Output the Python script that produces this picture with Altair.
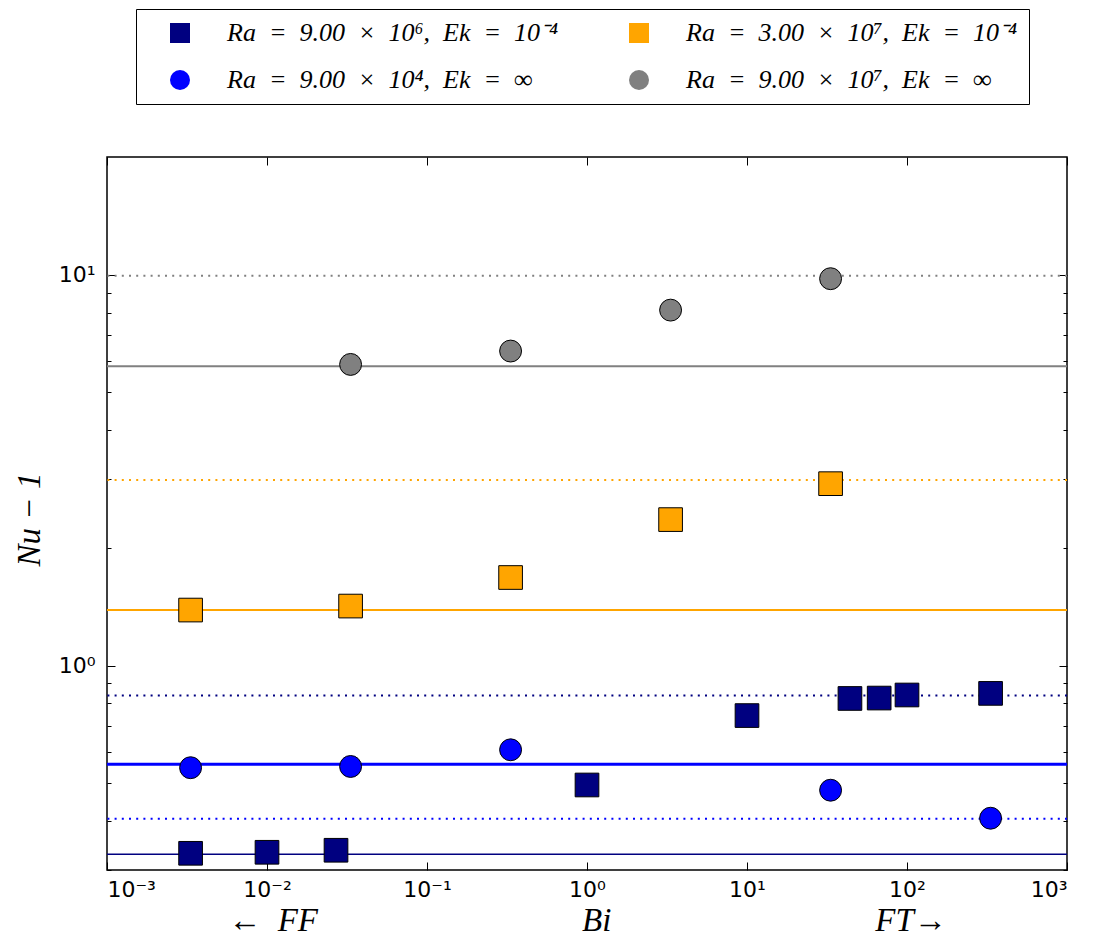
import json
import altair as alt
import pandas as pd

# ---------------- data ----------------
# series in legend order (column-major: left column, then right column)
series_names = [
    "Ra\u2002=\u20029.00\u2002×\u200210⁶,\u2002Ek\u2002=\u200210⁻⁴",
    "Ra\u2002=\u20029.00\u2002×\u200210⁴,\u2002Ek\u2002=\u2002∞",
    "Ra\u2002=\u20023.00\u2002×\u200210⁷,\u2002Ek\u2002=\u200210⁻⁴",
    "Ra\u2002=\u20029.00\u2002×\u200210⁷,\u2002Ek\u2002=\u2002∞",
]
series_colors = ["#000080", "#0000ff", "#ffa500", "#808080"]
series_shapes = ["square", "circle", "square", "circle"]
solid_widths = [1.5, 3, 2, 2]

navy_bi = [0.00333, 0.01, 0.027, 1.0, 10.0, 44.0, 67.0, 100.0, 333.0]
navy_nu = [0.331, 0.333, 0.337, 0.495, 0.745, 0.824, 0.826, 0.841, 0.849]

blue_bi = [0.00333, 0.0333, 0.333, 33.3, 333.0]
blue_nu = [0.548, 0.552, 0.609, 0.480, 0.407]

orange_bi = [0.00333, 0.0333, 0.333, 3.33, 33.3]
orange_nu = [1.387, 1.420, 1.680, 2.363, 2.920]

gray_bi = [0.0333, 0.333, 3.33, 33.3]
gray_nu = [5.894, 6.377, 8.116, 9.766]

# horizontal reference levels, in series order
solid_levels = [0.329, 0.559, 1.387, 5.834]
dotted_levels = [0.839, 0.406, 2.985, 9.94]

x_ticks = [0.001, 0.01, 0.1, 1, 10, 100, 1000]
x_tick_labels = ["10⁻³", "10⁻²", "10⁻¹", "10⁰", "10¹", "10²", "10³"]
y_ticks = [1, 10]
y_tick_labels = ["10⁰", "10¹"]
y_minor = [0.3, 0.4, 0.5, 0.6, 0.7, 0.8, 0.9, 2, 3, 4, 5, 6, 7, 8, 9]

x_title = "←\u2002FF" + "\u2003" * 8 + "Bi" + "\u2003" * 8 + "FT→"
y_title = "Nu − 1"

# ---------------- tables ----------------
rows = []
for name, xs, ys in [
    (series_names[0], navy_bi, navy_nu),
    (series_names[1], blue_bi, blue_nu),
    (series_names[2], orange_bi, orange_nu),
    (series_names[3], gray_bi, gray_nu),
]:
    for a, b in zip(xs, ys):
        rows.append({"series": name, "Bi": a, "Nu": b})
points_df = pd.DataFrame(rows)
solid_df = pd.DataFrame({"series": series_names, "level": solid_levels})
dotted_df = pd.DataFrame({"series": series_names, "level": dotted_levels})

xlab_expr = json.dumps(x_tick_labels, ensure_ascii=False) + "[round(log(datum.value)/LN10)+3]"
ylab_expr = json.dumps(y_tick_labels, ensure_ascii=False) + "[round(log(datum.value)/LN10)]"

xscale = alt.Scale(type="log", domain=[0.001, 1000])
yscale = alt.Scale(type="log", domain=[0.3, 20])
stroke_scale = alt.Scale(domain=series_names, range=series_colors)
fill_scale = alt.Scale(domain=series_names, range=series_colors)
shape_scale = alt.Scale(domain=series_names, range=series_shapes)

serif = "Liberation Serif"
title_size = 33

solid = alt.Chart(solid_df).mark_rule().encode(
    y=alt.Y("level:Q", scale=yscale,
            axis=alt.Axis(orient="left", values=y_ticks, labelExpr=ylab_expr,
                          tickSize=8, offset=-8, labelPadding=12, title=y_title,
                          titlePadding=12, titleY=362)),
    stroke=alt.Stroke("series:N", scale=stroke_scale, legend=None),
    strokeWidth=alt.StrokeWidth("series:N",
                                scale=alt.Scale(type="ordinal", domain=series_names,
                                                range=solid_widths),
                                legend=None),
)

dotted = alt.Chart(dotted_df).mark_rule(strokeDash=[2, 5.2], strokeWidth=2).encode(
    y=alt.Y("level:Q", scale=yscale,
            axis=alt.Axis(orient="right", values=y_ticks, labels=False,
                          tickSize=8, offset=-8, title=None)),
    stroke=alt.Stroke("series:N", scale=stroke_scale, legend=None),
)

legend = alt.Legend(
    title=None, orient="none", legendX=29, legendY=-148, columns=2,
    strokeColor="black", fillColor="white", padding=11,
    labelFont=serif, labelFontStyle="italic", labelFontSize=26, labelColor="black",
    labelLimit=600, symbolOffset=20, labelOffset=34, columnPadding=47, rowPadding=21,
    symbolSize=400, symbolStrokeColor="black", symbolStrokeWidth=1,
)

squares = alt.Chart(points_df).transform_filter(
    alt.FieldOneOfPredicate(field="series", oneOf=[series_names[0], series_names[2]])
).mark_point(filled=True, stroke="black", strokeWidth=1, opacity=1, size=560).encode(
    x=alt.X("Bi:Q", scale=xscale,
            axis=alt.Axis(orient="bottom", values=x_ticks, labelExpr=xlab_expr,
                          tickSize=8, offset=-8, labelPadding=9, title=x_title,
                          titlePadding=4)),
    y=alt.Y("Nu:Q", scale=yscale,
            axis=alt.Axis(orient="left", values=y_minor, labels=False,
                          tickSize=4, offset=-4, title=None)),
    fill=alt.Fill("series:N", scale=fill_scale, legend=legend),
    shape=alt.Shape("series:N", scale=shape_scale, legend=legend),
)

circles = alt.Chart(points_df).transform_filter(
    alt.FieldOneOfPredicate(field="series", oneOf=[series_names[1], series_names[3]])
).mark_point(filled=True, stroke="black", strokeWidth=1, opacity=1, size=480).encode(
    x=alt.X("Bi:Q", scale=xscale,
            axis=alt.Axis(orient="top", values=x_ticks, labels=False,
                          tickSize=8, offset=-8, title=None)),
    y=alt.Y("Nu:Q", scale=yscale,
            axis=alt.Axis(orient="right", values=y_minor, labels=False,
                          tickSize=4, offset=-4, title=None)),
    fill=alt.Fill("series:N", scale=fill_scale, legend=legend),
    shape=alt.Shape("series:N", scale=shape_scale, legend=legend),
)

chart = (
    alt.layer(solid, dotted, squares, circles)
    .resolve_axis(x="independent", y="independent")
    .resolve_legend(stroke="independent", strokeWidth="independent")
    .properties(width=960, height=713,
                padding={"left": 5, "top": 0, "right": 5, "bottom": 0})
    .configure_view(stroke="black", strokeWidth=1.5)
    .configure_axis(domain=False, grid=False, tickColor="black", tickWidth=1,
                    labelColor="black", labelFont="DejaVu Sans", labelFontSize=22,
                    titleFont=serif, titleFontStyle="italic", titleFontSize=title_size,
                    titleFontWeight="normal", titleColor="black")
)

chart.save("out.html", embed_options={"renderer": "svg", "actions": False})
